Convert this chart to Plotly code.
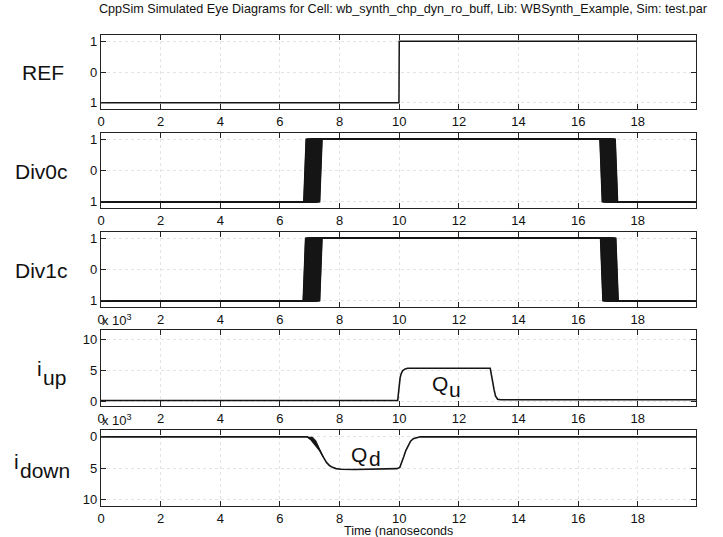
import plotly.graph_objects as go

# ---------------- data ----------------
T_END = 19.95
x_ticks = [0, 2, 4, 6, 8, 10, 12, 14, 16, 18]

ref_t = [0, 9.99, 10.0, T_END]
ref_v = [-1, -1, 1, 1]

EDGE_NS = 0.08
div0c_rise = [6.80, 6.84, 6.88, 6.93, 6.97, 7.01, 7.05, 7.09, 7.13, 7.17, 7.21, 7.25, 7.29, 7.33]
div0c_fall = [16.73, 16.77, 16.81, 16.85, 16.89, 16.93, 16.97, 17.01, 17.05, 17.09, 17.13, 17.17, 17.21, 17.24]
div1c_rise = [6.78, 6.82, 6.86, 6.91, 6.95, 6.99, 7.03, 7.07, 7.11, 7.15, 7.20, 7.24, 7.29, 7.33]
div1c_fall = [16.75, 16.79, 16.83, 16.87, 16.91, 16.95, 16.99, 17.03, 17.07, 17.11, 17.15, 17.19, 17.23, 17.26]

# i_up in units of 1e-3
iup_t = [0, 9.95, 9.97, 10.00, 10.03, 10.07, 10.12, 10.20, 10.28, 13.05, 13.09, 13.13, 13.18, 13.23, 13.30, 13.40, T_END]
iup_v = [0.1, 0.1, 1.1, 2.6, 3.8, 4.5, 4.95, 5.2, 5.3, 5.3, 4.5, 3.2, 1.8, 0.8, 0.3, 0.2, 0.2]

# i_down magnitude in units of 1e-3 (plotted negative)
idn_t = [0, 6.92, 7.05, 7.18, 7.32, 7.46, 7.56, 7.66, 7.76, 7.88, 8.05, 8.5, 9.0, 9.5, 9.92, 10.02, 10.08, 10.15, 10.22, 10.30, 10.38, 10.47, 10.58, 10.70, T_END]
idn_v = [0, 0, 0.5, 1.2, 2.1, 3.3, 4.1, 4.6, 4.9, 5.1, 5.2, 5.25, 5.22, 5.18, 5.1, 4.9, 4.2, 3.2, 2.2, 1.3, 0.7, 0.3, 0.1, 0.0, 0.0]
# latest-edge trace of the jittered i_down onset
idn_late_t = [7.08, 7.20, 7.32, 7.46]
idn_late_v = [0, 0.6, 1.7, 3.3]

y_div_ticks = [-1, 0, 1]
y_div_text = ["1", "0", "1"]
y_up_ticks = [0, 5, 10]
y_dn_ticks = [0, -5, -10]
y_i_text = ["0", "5", "10"]

title_text = "CppSim Simulated Eye Diagrams for Cell: wb_synth_chp_dyn_ro_buff, Lib: WBSynth_Example, Sim: test.par"
xlabel_text = "Time (nanoseconds"

# ---------------- layout helpers ----------------
W, H = 723, 537
L, R, T, B = 101, 696, 35, 506
tops = [35, 133, 232, 330, 430]
bots = [109, 208, 307, 406, 506]

def px(x):
    return (x - L) / (R - L)

def py(y):
    return (B - y) / (B - T)

SANS = "Liberation Sans, Arial, Helvetica, sans-serif"
LINE = "#151515"

fig = go.Figure()

def ax(k):
    return ("x" if k == 1 else f"x{k}"), ("y" if k == 1 else f"y{k}")

def add_line(x, y, k, width=1.5):
    xa, ya = ax(k)
    fig.add_trace(go.Scatter(x=x, y=y, mode="lines", line=dict(color=LINE, width=width),
                             xaxis=xa, yaxis=ya, showlegend=False, hoverinfo="skip"))

def add_fill(x, y, k):
    xa, ya = ax(k)
    fig.add_trace(go.Scatter(x=x, y=y, mode="lines", fill="toself", fillcolor=LINE,
                             line=dict(color=LINE, width=1), xaxis=xa, yaxis=ya,
                             showlegend=False, hoverinfo="skip"))

# REF
add_line(ref_t, ref_v, 1)
# Div0c / Div1c eye traces
for k, rises, falls in [(2, div0c_rise, div0c_fall), (3, div1c_rise, div1c_fall)]:
    for r, f in zip(rises, falls):
        add_line([0, r, r + EDGE_NS, f, f + EDGE_NS, T_END], [-1, -1, 1, 1, -1, -1], k, width=1.5)
    add_fill([rises[0], rises[0] + EDGE_NS, rises[-1] + EDGE_NS, rises[-1], rises[0]], [-1, 1, 1, -1, -1], k)
    add_fill([falls[0], falls[0] + EDGE_NS, falls[-1] + EDGE_NS, falls[-1], falls[0]], [1, -1, -1, 1, 1], k)
# i_up
add_line(iup_t, iup_v, 4, width=1.6)
# i_down
add_line(idn_t, [-v for v in idn_v], 5, width=1.6)
early_t = idn_t[1:6]
early_v = idn_v[1:6]
add_fill(early_t + idn_late_t[::-1], [-v for v in early_v] + [-v for v in idn_late_v[::-1]], 5)

axis_common = dict(showline=True, linecolor="#222", linewidth=1.2, mirror="ticks", ticks="inside",
                   ticklen=5, tickcolor="#222", tickwidth=1, zeroline=False, showgrid=True,
                   gridcolor="#e4e4e4", griddash="dot", gridwidth=1,
                   tickfont=dict(family=SANS, size=13, color="#111"))

layout = dict(width=W, height=H, paper_bgcolor="white", plot_bgcolor="white",
              margin=dict(l=L, r=W - R, t=T, b=H - B), showlegend=False)

yranges = [[-1.2, 1.2], [-1.2, 1.2], [-1.2, 1.2], [-0.8, 11.5], [-11.1, 1.1]]
ytv = [y_div_ticks, y_div_ticks, y_div_ticks, y_up_ticks, y_dn_ticks]
ytt = [y_div_text, y_div_text, y_div_text, y_i_text, y_i_text]
for i in range(5):
    k = i + 1
    xn = "xaxis" if k == 1 else f"xaxis{k}"
    yn = "yaxis" if k == 1 else f"yaxis{k}"
    layout[xn] = dict(axis_common, domain=[0, 1], range=[0, T_END], tickvals=x_ticks,
                      anchor="y" if k == 1 else f"y{k}")
    layout[yn] = dict(axis_common, domain=[py(bots[i]), py(tops[i])], range=yranges[i],
                      tickvals=ytv[i], ticktext=ytt[i], anchor="x" if k == 1 else f"x{k}")

fig.update_layout(**layout)

ann = []
def text(s, x, y, size, xanchor="left", yanchor="middle"):
    ann.append(dict(text=s, x=px(x), y=py(y), xref="paper", yref="paper", showarrow=False,
                    xanchor=xanchor, yanchor=yanchor, font=dict(family=SANS, size=size, color="#111")))

text(title_text, 97, 9, 12.6)
text("REF", 66, 72, 21, xanchor="right")
text("Div0c", 70, 171, 21, xanchor="right")
text("Div1c", 70, 270, 21, xanchor="right")
text("i", 35, 368, 21)
text("up", 41, 377, 21)
text("i", 12, 461, 21)
text("down", 18, 470, 21)
text("Q", 430, 383, 21)
text("u", 447, 389, 21)
text("Q", 349, 454, 21)
text("d", 367, 458, 21)
text("x 10<sup>3</sup>", 100, 320, 13)
text("x 10<sup>3</sup>", 100, 420, 13)
text(xlabel_text, 398, 530.5, 12.5, xanchor="center")

fig.update_layout(annotations=ann)
fig.write_html("out.html", config={"displayModeBar": False},
               post_script="document.body.style.margin='0';document.body.style.overflow='hidden';")
